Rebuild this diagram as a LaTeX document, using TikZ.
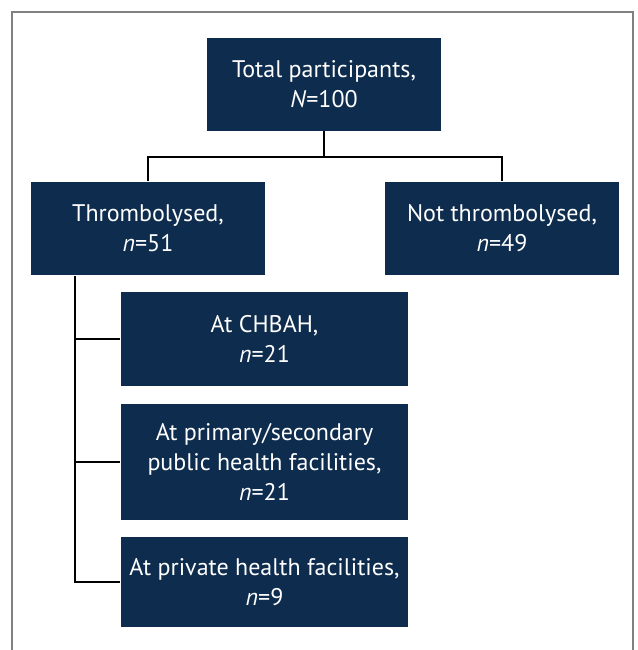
\documentclass[tikz,border=0pt]{standalone}
\usepackage{fontspec}
\setmainfont{PT Sans}
\usepackage{xcolor}
\definecolor{navy}{HTML}{0E2C4E}
\tikzset{
	box/.style={fill=navy,text=white,align=center,inner sep=0pt,
		font=\fontsize{12}{15}\selectfont},
	wide/.style={box,minimum width=117pt,minimum height=46.5pt},
	sub/.style={box,minimum width=143.5pt}
}

\begin{document}
\begin{tikzpicture}[x=0.5pt,y=-0.5pt,line width=0.75pt]
	\useasboundingbox (0,0) rectangle (638,650);
	\draw[gray,line width=0.8pt] (12,660) |- (633,12) -- (633,660);
	%
	\node[wide] (Tot) at (324,84) {Total participants,\\\textit{N}=100};
	\node[wide] (Thr) at (148,228.5) {Thrombolysed,\\\textit{n}=51};
	\node[wide] (Not) at (502,228.5) {Not thrombolysed,\\\textit{n}=49};
	%
	\node[sub,minimum height=47pt] (Chb) at (264.5,339) {At CHBAH,\\\textit{n}=21};
	\node[sub,minimum height=58pt] (Pub) at (264.5,462) {At primary/secondary\\public health facilities,\\\textit{n}=21};
	\node[sub,minimum height=45pt] (Pri) at (264.5,582) {At private health facilities,\\\textit{n}=9};
	%
	\coordinate (j) at (324,157);
	\draw (Tot) -- (j);
	\draw (Thr.north) |- (j) -| (Not.north);
	\draw (Thr.south west) ++(45,0) coordinate (s) |- (Pri.west);
	\draw (s |- Chb.west) -- (Chb.west);
	\draw (s |- Pub.west) -- (Pub.west);
\end{tikzpicture}
\end{document}
